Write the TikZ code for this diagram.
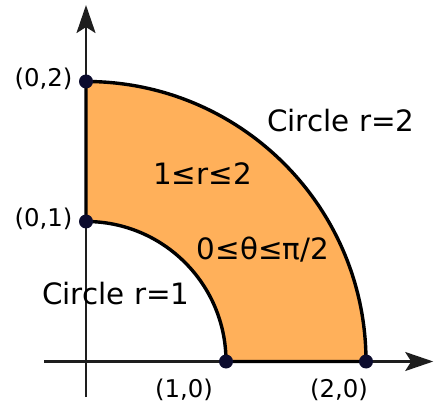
\documentclass[tikz,border=0pt]{standalone}
\usepackage{fontspec}
\setmainfont{DejaVu Sans}
\usetikzlibrary{arrows.meta}
\definecolor{regionfill}{HTML}{FFB05A}
\definecolor{dotcol}{HTML}{0C0C2E}
\definecolor{axiscol}{HTML}{1E1E1E}
\tikzset{
  axisline/.style={draw=axiscol,line width=1.1pt,-{Stealth[length=14pt,width=9.5pt,inset=3pt]}},
  regionstyle/.style={fill=regionfill,draw=black,line width=1.7pt,line join=round},
  ptdot/.style={circle,fill=dotcol,inner sep=0pt,minimum size=7pt},
  coordlabel/.style={font=\fontsize{12.2pt}{14pt}\selectfont,anchor=base,inner sep=0pt},
  biglabel/.style={font=\fontsize{14.7pt}{17pt}\selectfont,anchor=base,inner sep=0pt}
}
\begin{document}
\begin{tikzpicture}[x=70pt,y=70pt]
\useasboundingbox (-0.6143,-0.2893) rectangle (2.5143,2.5821);
% axes
\coordinate (xstart) at (-0.30,0);
\coordinate (xend) at (2.48,0);
\coordinate (ystart) at (0,-0.254);
\coordinate (yend) at (0,2.546);
\draw[axisline] (xstart) -- (xend);
\draw[axisline] (ystart) -- (yend);
% region
\coordinate (p10) at (1,0);
\coordinate (p20) at (2,0);
\coordinate (p01) at (0,1);
\coordinate (p02) at (0,2);
\path[regionstyle] (p10) -- (p20) arc[start angle=0,end angle=90,radius=2] -- (p01) arc[start angle=90,end angle=0,radius=1] -- cycle;
% dots
\node[ptdot] (d10) at (p10) {};
\node[ptdot] (d20) at (p20) {};
\node[ptdot] (d01) at (p01) {};
\node[ptdot] (d02) at (p02) {};
% coordinate labels
\node[coordlabel] (l02) at (-0.304,1.961) {(0,2)};
\node[coordlabel] (l01) at (-0.304,0.961) {(0,1)};
\node[coordlabel] (l10) at (0.700,-0.254) {(1,0)};
\node[coordlabel] (l20) at (1.807,-0.254) {(2,0)};
% big labels
\node[biglabel] (c2) at (1.821,1.646) {Circle r=2};
\node[biglabel] (rr) at (0.832,1.261) {1≤r≤2};
\node[biglabel] (th) at (1.264,0.732) {0≤θ≤π/2};
\node[biglabel] (c1) at (0.214,0.404) {Circle r=1};
\end{tikzpicture}
\end{document}
